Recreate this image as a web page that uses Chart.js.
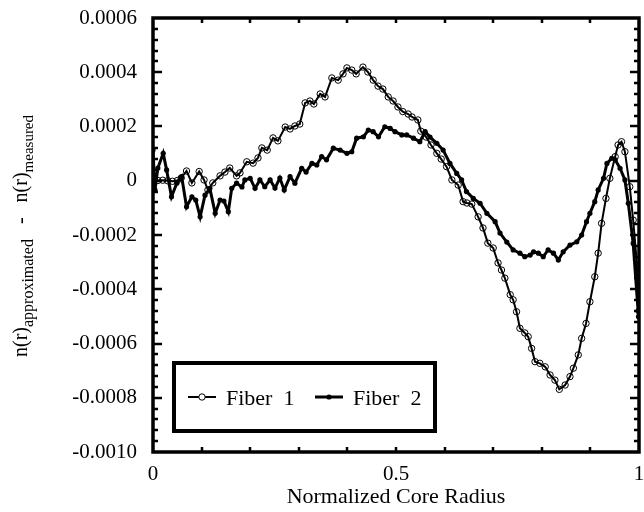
<!DOCTYPE html>
<html>
<head>
<meta charset="utf-8">
<script src="https://cdn.jsdelivr.net/npm/chart.js@4.4.0/dist/chart.umd.min.js"></script>
<style>
  html, body { margin: 0; padding: 0; background: #fff; }
  #wrap { width: 644px; height: 512px; }
</style>
</head>
<body>
<div id="wrap"><canvas id="profileChart" width="644" height="512"></canvas></div>
<script>
// Normalized core radius (x) and index difference in units of 1e-4 (y)
const fiber1X = [0, 0.01, 0.02, 0.03, 0.04, 0.05, 0.058, 0.069, 0.080, 0.095, 0.105, 0.113, 0.123, 0.138, 0.148, 0.158, 0.172, 0.179, 0.193, 0.206,
  0.216, 0.224, 0.235, 0.247, 0.257, 0.272, 0.282, 0.292, 0.302, 0.313, 0.323, 0.331, 0.344, 0.354, 0.368, 0.381, 0.391, 0.399, 0.409, 0.418,
  0.432, 0.442, 0.453, 0.463, 0.473, 0.484, 0.494, 0.504, 0.514, 0.525, 0.533, 0.545, 0.551, 0.562, 0.572, 0.584, 0.593, 0.604, 0.615, 0.628,
  0.638, 0.646, 0.656, 0.669, 0.679, 0.689, 0.700, 0.710, 0.717, 0.724, 0.735, 0.741, 0.748, 0.755, 0.765, 0.772, 0.779, 0.786, 0.796, 0.807,
  0.817, 0.827, 0.836, 0.848, 0.858, 0.865, 0.875, 0.882, 0.891, 0.899, 0.909, 0.916, 0.923, 0.932, 0.940, 0.951, 0.957, 0.964, 0.971, 0.981,
  0.988, 0.995, 1.0];
const fiber1Y = [0, 0.01, 0.02, 0, -0.02, 0.01, 0.10, 0.36, -0.08, 0.34, 0.03, -0.34, -0.08, 0.18, 0.32, 0.47, 0.18, 0.29, 0.70, 0.65,
  0.84, 1.21, 1.13, 1.58, 1.47, 1.98, 1.91, 2.02, 2.09, 2.87, 2.94, 2.83, 3.20, 3.09, 3.79, 3.71, 3.94, 4.16, 4.08, 3.94,
  4.19, 4.01, 3.71, 3.49, 3.38, 3.09, 2.94, 2.72, 2.55, 2.46, 2.35, 2.24, 1.83, 1.61, 1.32, 1.01, 0.80, 0.52, 0.03, -0.16,
  -0.77, -0.82, -0.86, -1.33, -1.74, -2.30, -2.48, -3.03, -3.29, -3.59, -4.20, -4.39, -4.83, -5.44, -5.61, -5.75, -6.18, -6.67, -6.73, -6.86,
  -7.16, -7.35, -7.69, -7.53, -7.22, -6.91, -6.42, -5.81, -5.26, -4.46, -3.54, -2.67, -1.57, -0.65, 0.09, 0.89, 1.32, 1.44, 1.07, -0.22,
  -1.45, -2.91, -4.80];

const fiber2X = [0, 0.004, 0.010, 0.021, 0.028, 0.038, 0.049, 0.059, 0.069, 0.080, 0.088, 0.097, 0.107, 0.117, 0.128, 0.138, 0.146, 0.155, 0.162, 0.172,
  0.183, 0.189, 0.200, 0.210, 0.220, 0.230, 0.241, 0.251, 0.261, 0.270, 0.282, 0.292, 0.306, 0.315, 0.327, 0.337, 0.347, 0.357, 0.371, 0.385,
  0.399, 0.409, 0.419, 0.433, 0.443, 0.453, 0.464, 0.477, 0.488, 0.498, 0.512, 0.522, 0.536, 0.549, 0.560, 0.570, 0.584, 0.597, 0.611, 0.625,
  0.635, 0.645, 0.659, 0.673, 0.687, 0.704, 0.714, 0.728, 0.741, 0.755, 0.765, 0.776, 0.783, 0.793, 0.803, 0.813, 0.824, 0.834, 0.844, 0.858,
  0.872, 0.882, 0.892, 0.899, 0.909, 0.916, 0.927, 0.934, 0.944, 0.951, 0.961, 0.971, 0.978, 0.988, 0.999];
const fiber2Y = [1.13, -0.34, 0.47, 1.01, 0.40, -0.59, -0.09, 0.15, -0.96, -0.59, -0.71, -1.33, -0.53, -0.28, -1.20, -0.71, -0.75, -1.14, -0.28, -0.09,
  -0.23, 0.03, 0.09, -0.28, 0.03, -0.22, 0.03, -0.27, 0.10, -0.34, 0.15, -0.09, 0.46, 0.32, 0.64, 0.58, 0.89, 0.77, 1.20, 1.13,
  1.01, 1.07, 1.57, 1.62, 1.87, 1.81, 1.62, 1.99, 1.93, 1.81, 1.69, 1.69, 1.57, 1.44, 1.81, 1.61, 1.38, 1.13, 0.64, 0.27,
  0.03, -0.40, -0.65, -0.83, -1.20, -1.51, -1.93, -2.26, -2.55, -2.67, -2.80, -2.74, -2.62, -2.67, -2.80, -2.55, -2.67, -2.92, -2.62, -2.37,
  -2.25, -2.00, -1.51, -1.20, -0.77, -0.34, 0.09, 0.64, 0.83, 0.77, 0.46, 0.03, -0.83, -2.31, -5.01];

const seriesLabels = ['Fiber  1', 'Fiber  2'];
const xTickLabels = { 0: '0', 0.5: '0.5', 1: '1' };
const yUnit = 1e-4;

const serif = '"Liberation Serif", "Times New Roman", serif';

const toPoints = (xs, ys) => xs.map((x, i) => ({ x: x, y: ys[i] * yUnit }));

// inward ticks, thick frame, y title with subscripts, boxed legend
const framePlugin = {
  id: 'frame',
  afterDraw(chart) {
    const { ctx, chartArea: a, scales } = chart;
    const xs = scales.x, ys = scales.y;
    ctx.save();
    ctx.strokeStyle = '#000';
    ctx.fillStyle = '#000';

    // x tick marks every 0.1
    ctx.lineWidth = 2.5;
    for (let i = 1; i < 10; i++) {
      const px = Math.round(xs.getPixelForValue(i / 10));
      ctx.beginPath();
      ctx.moveTo(px, a.bottom); ctx.lineTo(px, a.bottom - 5);
      ctx.moveTo(px, a.top); ctx.lineTo(px, a.top + 5);
      ctx.stroke();
    }
    // y tick marks: major every 0.0002, minor every 0.00004
    for (let i = 1; i < 40; i++) {
      const v = -0.001 + i * 0.00004;
      const py = Math.round(ys.getPixelForValue(v));
      const len = i % 5 === 0 ? 9 : 5;
      ctx.lineWidth = 2.5;
      ctx.beginPath();
      ctx.moveTo(a.left, py); ctx.lineTo(a.left + len, py);
      ctx.moveTo(a.right, py); ctx.lineTo(a.right - len, py);
      ctx.stroke();
    }
    // frame
    ctx.lineWidth = 3.5;
    ctx.strokeRect(a.left, a.top, a.right - a.left, a.bottom - a.top);

    // y axis title
    const parts = [
      { t: 'n(r)', f: 20, dy: 0 },
      { t: 'approximated', f: 16, dy: 6 },
      { t: '   -   ', f: 20, dy: 0 },
      { t: 'n(r)', f: 20, dy: 0 },
      { t: 'measured', f: 15, dy: 6 }
    ];
    let total = 0;
    parts.forEach(p => { ctx.font = p.f + 'px ' + serif; p.w = ctx.measureText(p.t).width; total += p.w; });
    ctx.translate(27, 236);
    ctx.rotate(-Math.PI / 2);
    ctx.textBaseline = 'alphabetic';
    ctx.textAlign = 'left';
    let cx = -total / 2;
    parts.forEach(p => {
      ctx.font = p.f + 'px ' + serif;
      ctx.fillText(p.t, cx, p.dy);
      cx += p.w;
    });
    ctx.setTransform(1, 0, 0, 1, 0, 0);

    // legend box
    const lx = a.left + 21, ly = a.bottom - 89, lw = 261, lh = 68;
    ctx.lineWidth = 4;
    ctx.fillStyle = '#fff';
    ctx.fillRect(lx, ly, lw, lh);
    ctx.strokeRect(lx, ly, lw, lh);
    ctx.fillStyle = '#000';
    ctx.font = '22px ' + serif;
    ctx.textBaseline = 'alphabetic';
    const midY = ly + lh / 2;
    const items = [lx + 14, lx + 141];
    chart.data.datasets.forEach((ds, i) => {
      const sx = items[i];
      ctx.lineWidth = ds.borderWidth;
      ctx.beginPath();
      ctx.moveTo(sx, midY); ctx.lineTo(sx + 28, midY);
      ctx.stroke();
      ctx.beginPath();
      ctx.arc(sx + 14, midY, ds.pointRadius, 0, Math.PI * 2);
      ctx.lineWidth = 1;
      if (i === 0) { ctx.fillStyle = '#fff'; ctx.fill(); ctx.stroke(); }
      else { ctx.fillStyle = '#000'; ctx.fill(); }
      ctx.fillStyle = '#000';
      ctx.fillText(ds.label, sx + 38, midY + 8);
    });
    ctx.restore();
  }
};

new Chart(document.getElementById('profileChart'), {
  type: 'line',
  data: {
    datasets: [
      {
        label: seriesLabels[0],
        data: toPoints(fiber1X, fiber1Y),
        borderColor: '#000',
        borderWidth: 2,
        pointRadius: 3.2,
        pointBorderWidth: 1,
        pointBorderColor: '#000',
        pointBackgroundColor: 'rgba(0,0,0,0)',
        tension: 0
      },
      {
        label: seriesLabels[1],
        data: toPoints(fiber2X, fiber2Y),
        borderColor: '#000',
        borderWidth: 3,
        pointRadius: 2.6,
        pointBorderWidth: 0,
        pointBackgroundColor: '#000',
        tension: 0
      }
    ]
  },
  options: {
    responsive: false,
    animation: false,
    layout: { padding: { top: 18, right: 5, left: 0, bottom: 0 } },
    plugins: { legend: { display: false }, tooltip: { enabled: false } },
    scales: {
      x: {
        type: 'linear',
        min: 0, max: 1,
        grid: { display: false, drawTicks: false },
        border: { display: false },
        ticks: {
          stepSize: 0.5,
          color: '#000',
          font: { family: serif, size: 21 },
          padding: 10,
          maxRotation: 0,
          callback: v => xTickLabels[v] !== undefined ? xTickLabels[v] : ''
        },
        title: {
          display: true,
          text: 'Normalized Core Radius',
          color: '#000',
          font: { family: serif, size: 22 },
          padding: { top: 0, bottom: 2 }
        },
        afterFit: s => { s.height = 60; s.paddingLeft = 0; s.paddingRight = 0; }
      },
      y: {
        type: 'linear',
        min: -0.001, max: 0.0006,
        grid: { display: false, drawTicks: false },
        border: { display: false },
        ticks: {
          stepSize: 0.0002,
          color: '#000',
          font: { family: serif, size: 21 },
          padding: 16,
          callback: v => Math.abs(v) < 1e-9 ? '0' : v.toFixed(4)
        },
        afterFit: s => { s.width = 153; s.paddingTop = 0; s.paddingBottom = 0; }
      }
    }
  },
  plugins: [framePlugin]
});
</script>
</body>
</html>
